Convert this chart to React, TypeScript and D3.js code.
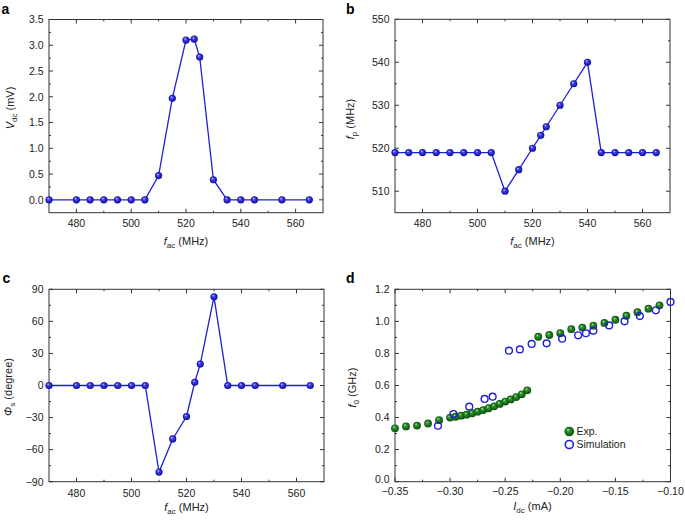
import React from 'react';
import * as d3 from 'd3';

// Panel a / c frequencies
const fAC = [470, 480, 485, 490, 495, 500, 505, 510, 515, 520, 523, 525, 530, 535, 540, 545, 555, 565];
const vdc = [0, 0, 0, 0, 0, 0, 0, 0.47, 1.97, 3.10, 3.12, 2.77, 0.39, 0, 0, 0, 0, 0];
const phiS = [0, 0, 0, 0, 0, 0, 0, -81, -50, -29, 3, 20, 83, 0, 0, 0, 0, 0];
// Panel b
const fB = [470, 475, 480, 485, 490, 495, 500, 505, 510, 515, 520, 523, 525, 530, 535, 540, 545, 550, 555, 560, 565];
const fp = [519, 519, 519, 519, 519, 519, 519, 519, 510, 515, 520, 523, 525, 530, 535, 540, 519, 519, 519, 519, 519];
// Panel d
const expI = [-0.35, -0.34, -0.33, -0.32, -0.31, -0.30, -0.295, -0.29, -0.285, -0.28, -0.275, -0.27, -0.265, -0.26, -0.255, -0.25, -0.245, -0.24, -0.235, -0.23,
  -0.22, -0.21, -0.20, -0.19, -0.18, -0.17, -0.16, -0.15, -0.14, -0.13, -0.12, -0.11];
const expF = [0.333, 0.345, 0.350, 0.363, 0.384, 0.400, 0.405, 0.412, 0.418, 0.427, 0.437, 0.447, 0.458, 0.470, 0.485, 0.500, 0.513, 0.528, 0.545, 0.570,
  0.904, 0.915, 0.926, 0.951, 0.961, 0.973, 0.990, 1.010, 1.035, 1.057, 1.079, 1.100];
const simI = [-0.311, -0.297, -0.2826, -0.2687, -0.2614, -0.2466, -0.2367, -0.226, -0.2124, -0.1983, -0.1838, -0.1768, -0.170, -0.1557, -0.1417, -0.1278, -0.1133, -0.10];
const simF = [0.349, 0.422, 0.468, 0.516, 0.530, 0.817, 0.825, 0.859, 0.863, 0.892, 0.913, 0.926, 0.942, 0.975, 1.000, 1.033, 1.069, 1.121];

const xTicksF = [480, 500, 520, 540, 560];
const minorTicksF = [490, 510, 530, 550, 570];

const FONT = "'Liberation Sans', Arial, Helvetica, sans-serif";
const BLUE = '#1f1fd6';
const minus = (s: string) => s.replace('-', '\u2212');

type PanelProps = {
  x0: number; x1: number; y0: number; y1: number;
  xDomain: [number, number]; yDomain: [number, number];
  xMajor: number[]; xMinor: number[]; yMajor: number[]; yMinor: number[];
  xFmt: (v: number) => string; yFmt: (v: number) => string;
  xLabelY: number;
  firstYLabelNudge?: number;
  children: (x: d3.ScaleLinear<number, number>, y: d3.ScaleLinear<number, number>) => React.ReactNode;
};

function Panel(p: PanelProps) {
  const x = d3.scaleLinear().domain(p.xDomain).range([p.x0, p.x1]);
  const y = d3.scaleLinear().domain(p.yDomain).range([p.y1, p.y0]);
  const maj = 4, mnr = 2;
  const tc = '#333';
  return (
    <g>
      <rect x={p.x0} y={p.y0} width={p.x1 - p.x0} height={p.y1 - p.y0} fill="none" stroke={tc} strokeWidth={1} />
      {p.xMajor.map((v) => (
        <g key={'xm' + v}>
          <line x1={x(v)} x2={x(v)} y1={p.y1} y2={p.y1 - maj} stroke={tc} />
          <line x1={x(v)} x2={x(v)} y1={p.y0} y2={p.y0 + maj} stroke={tc} />
          <text x={x(v)} y={p.xLabelY} textAnchor="middle" fontSize={10.5} fontFamily={FONT} fill="#222">{p.xFmt(v)}</text>
        </g>
      ))}
      {p.xMinor.filter((v) => x(v) > p.x0 + 0.5 && x(v) < p.x1 - 0.5).map((v) => (
        <g key={'xn' + v}>
          <line x1={x(v)} x2={x(v)} y1={p.y1} y2={p.y1 - mnr} stroke={tc} />
          <line x1={x(v)} x2={x(v)} y1={p.y0} y2={p.y0 + mnr} stroke={tc} />
        </g>
      ))}
      {p.yMajor.map((v, i) => (
        <g key={'ym' + v}>
          <line x1={p.x0} x2={p.x0 + maj} y1={y(v)} y2={y(v)} stroke={tc} />
          <line x1={p.x1} x2={p.x1 - maj} y1={y(v)} y2={y(v)} stroke={tc} />
          <text x={p.x0 - 5.5} y={y(v) + 3.8 - (i === 0 ? (p.firstYLabelNudge || 0) : 0)} textAnchor="end" fontSize={10.5} fontFamily={FONT} fill="#222">{p.yFmt(v)}</text>
        </g>
      ))}
      {p.yMinor.filter((v) => y(v) > p.y0 + 0.5 && y(v) < p.y1 - 0.5).map((v) => (
        <g key={'yn' + v}>
          <line x1={p.x0} x2={p.x0 + mnr} y1={y(v)} y2={y(v)} stroke={tc} />
          <line x1={p.x1} x2={p.x1 - mnr} y1={y(v)} y2={y(v)} stroke={tc} />
        </g>
      ))}
      {p.children(x, y)}
    </g>
  );
}

function LineSeries({ xs, ys, x, y }: { xs: number[]; ys: number[]; x: any; y: any }) {
  const pts = xs.map((v, i) => [x(v), y(ys[i])] as [number, number]);
  const line = d3.line();
  return (
    <g>
      <path d={line(pts) || ''} fill="none" stroke={BLUE} strokeWidth={1.3} />
      {pts.map((pt, i) => (
        <circle key={i} cx={pt[0]} cy={pt[1]} r={3.6} fill="url(#gBlue)" />
      ))}
    </g>
  );
}

function XTitle({ cx, y, main, sub, unit }: { cx: number; y: number; main: string; sub: string; unit: string }) {
  return (
    <text x={cx} y={y} textAnchor="middle" fontSize={11} fontFamily={FONT} fill="#222">
      <tspan fontStyle="italic">{main}</tspan>
      <tspan fontSize={8} dy={2.5}>{sub}</tspan>
      <tspan dy={-2.5}>{' ' + unit}</tspan>
    </text>
  );
}

function YTitle({ x, cy, main, sub, unit }: { x: number; cy: number; main: string; sub: string; unit: string }) {
  return (
    <text transform={`translate(${x},${cy}) rotate(-90)`} textAnchor="middle" fontSize={11} fontFamily={FONT} fill="#222">
      <tspan fontStyle="italic">{main}</tspan>
      <tspan fontSize={8} dy={2.5}>{sub}</tspan>
      <tspan dy={-2.5}>{' ' + unit}</tspan>
    </text>
  );
}

export default function App() {
  const fmtInt = (v: number) => minus(d3.format('d')(v));
  return (
    <svg width={685} height={521} style={{ position: 'absolute', left: 0, top: 0, background: '#fff' }}>
      <defs>
        <radialGradient id="gBlue" cx="50%" cy="50%" r="50%" fx="35%" fy="30%">
          <stop offset="0%" stopColor="#e6e6ff" />
          <stop offset="30%" stopColor="#4848f4" />
          <stop offset="100%" stopColor="#0a0a9a" />
        </radialGradient>
        <radialGradient id="gGreen" cx="50%" cy="50%" r="50%" fx="35%" fy="30%">
          <stop offset="0%" stopColor="#d8f0d8" />
          <stop offset="30%" stopColor="#2e9a2e" />
          <stop offset="100%" stopColor="#0c4e0c" />
        </radialGradient>
      </defs>

      {/* Panel a */}
      <text x={1.5} y={13.5} fontSize={14} fontWeight="bold" fontFamily={FONT}>a</text>
      <Panel x0={49} x1={323} y0={19.5} y1={212.7} xDomain={[470, 570]} yDomain={[-0.25, 3.5]}
        xMajor={xTicksF} xMinor={minorTicksF} yMajor={[0, 0.5, 1, 1.5, 2, 2.5, 3, 3.5]} yMinor={[0.25, 0.75, 1.25, 1.75, 2.25, 2.75, 3.25]}
        xFmt={fmtInt} yFmt={(v) => d3.format('.1f')(v)} xLabelY={226.5}>
        {(x, y) => <LineSeries xs={fAC} ys={vdc} x={x} y={y} />}
      </Panel>
      <XTitle cx={186} y={245} main="f" sub="ac" unit="(MHz)" />
      <YTitle x={14} cy={108} main="V" sub="dc" unit="(mV)" />

      {/* Panel b */}
      <text x={346} y={14} fontSize={14} fontWeight="bold" fontFamily={FONT}>b</text>
      <Panel x0={395} x1={670} y0={19.3} y1={212.7} xDomain={[470, 570]} yDomain={[505, 550]}
        xMajor={xTicksF} xMinor={minorTicksF} yMajor={[510, 520, 530, 540, 550]} yMinor={[515, 525, 535, 545]}
        xFmt={fmtInt} yFmt={fmtInt} xLabelY={226.5}>
        {(x, y) => <LineSeries xs={fB} ys={fp} x={x} y={y} />}
      </Panel>
      <XTitle cx={532.5} y={245} main="f" sub="ac" unit="(MHz)" />
      <YTitle x={354} cy={119} main="f" sub="p" unit="(MHz)" />

      {/* Panel c */}
      <text x={2.5} y={282.7} fontSize={14} fontWeight="bold" fontFamily={FONT}>c</text>
      <Panel x0={49} x1={324} y0={289.3} y1={481.7} xDomain={[470, 570]} yDomain={[-90, 90]}
        xMajor={xTicksF} xMinor={minorTicksF} yMajor={[-90, -60, -30, 0, 30, 60, 90]} yMinor={[-75, -45, -15, 15, 45, 75]}
        xFmt={fmtInt} yFmt={fmtInt} xLabelY={497}>
        {(x, y) => <LineSeries xs={fAC} ys={phiS} x={x} y={y} />}
      </Panel>
      <XTitle cx={186.5} y={511} main="f" sub="ac" unit="(MHz)" />
      <YTitle x={12} cy={387} main={'\u03A6'} sub="s" unit="(degree)" />

      {/* Panel d */}
      <text x={346} y={282.7} fontSize={14} fontWeight="bold" fontFamily={FONT}>d</text>
      <Panel x0={395} x1={670.5} y0={289.3} y1={481.7} xDomain={[-0.35, -0.10]} yDomain={[0, 1.2]}
        xMajor={[-0.35, -0.30, -0.25, -0.20, -0.15, -0.10]} xMinor={[-0.325, -0.275, -0.225, -0.175, -0.125]}
        yMajor={[0, 0.2, 0.4, 0.6, 0.8, 1.0, 1.2]} yMinor={[0.1, 0.3, 0.5, 0.7, 0.9, 1.1]}
        xFmt={(v) => minus(d3.format('.2f')(v))} yFmt={(v) => d3.format('.1f')(v)} xLabelY={495}
        firstYLabelNudge={2.5}>
        {(x, y) => (
          <g>
            {expI.map((v, i) => (
              <circle key={'e' + i} cx={x(v)} cy={y(expF[i])} r={3.9} fill="url(#gGreen)" />
            ))}
            {simI.map((v, i) => (
              <circle key={'s' + i} cx={x(v)} cy={y(simF[i])} r={3.4} fill="none" stroke={BLUE} strokeWidth={1.4} />
            ))}
          </g>
        )}
      </Panel>
      <XTitle cx={532.5} y={510} main="I" sub="dc" unit="(mA)" />
      <YTitle x={356} cy={387.5} main="f" sub="0" unit="(GHz)" />

      {/* Legend */}
      <circle cx={569.3} cy={431.5} r={4.8} fill="url(#gGreen)" />
      <text x={576.5} y={435} fontSize={10.5} fontFamily={FONT} fill="#222">Exp.</text>
      <circle cx={569.3} cy={444.5} r={4} fill="none" stroke={BLUE} strokeWidth={1.6} />
      <text x={576.5} y={448.3} fontSize={10.5} fontFamily={FONT} fill="#222">Simulation</text>
    </svg>
  );
}
